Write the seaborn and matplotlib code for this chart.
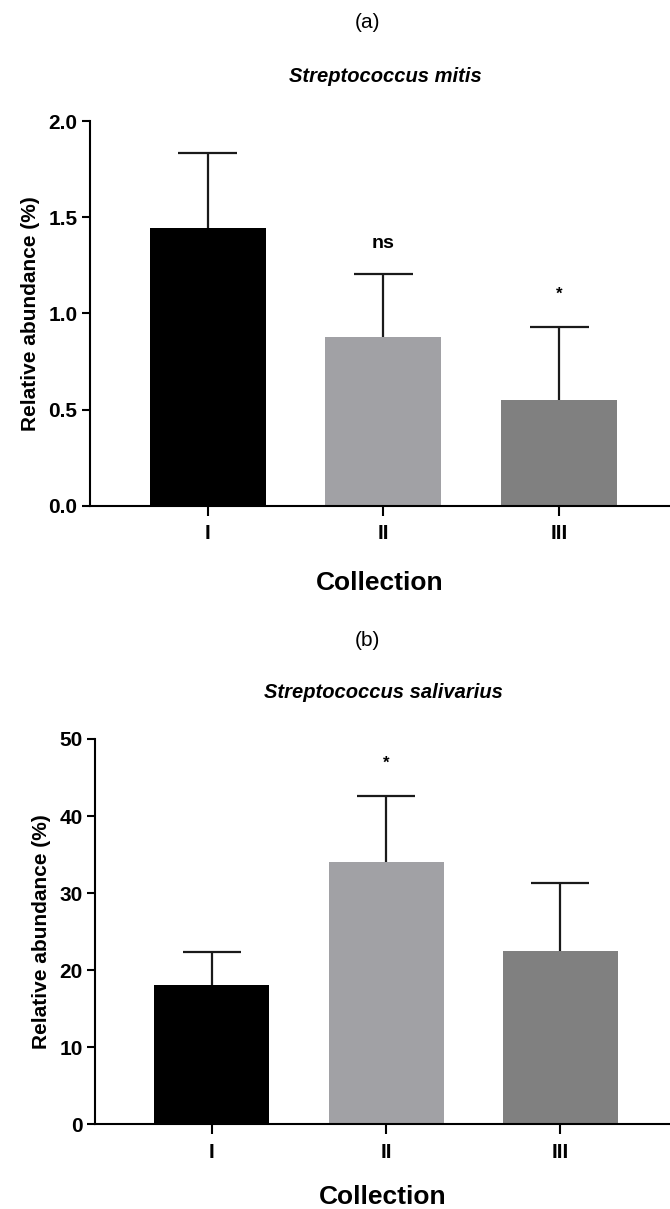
import numpy as np
import matplotlib
matplotlib.use("Agg")
import matplotlib.pyplot as plt
import seaborn as sns

# Data (mean and upper SD for each collection)
collections = ["I", "II", "III"]
bar_colors = ["#000000", "#a1a1a5", "#808080"]

mitis_mean = [1.443, 0.876, 0.549]
mitis_sd = [0.392, 0.328, 0.382]
mitis_sig = ["", "ns", "*"]
mitis_yticks = [0.0, 0.5, 1.0, 1.5, 2.0]
mitis_ticklabels = ["0.0", "0.5", "1.0", "1.5", "2.0"]

saliv_mean = [18.1, 34.0, 22.5]
saliv_sd = [4.25, 8.6, 8.8]
saliv_sig = ["", "*", ""]
saliv_yticks = [0, 10, 20, 30, 40, 50]
saliv_ticklabels = ["0", "10", "20", "30", "40", "50"]

sns.set_style("ticks")
plt.rcParams['font.family'] = ['Liberation Sans', 'DejaVu Sans']
plt.rcParams['text.color'] = 'black'
plt.rcParams['axes.labelcolor'] = 'black'
plt.rcParams['xtick.color'] = 'black'
plt.rcParams['ytick.color'] = 'black'
plt.rcParams['axes.edgecolor'] = 'black'


def draw_panel(ax, means, sds, sig, yticks, yticklabels, xlabelpad=20):
    """Bar chart with one-sided SD error bars, GraphPad look."""
    sns.barplot(x=collections, y=means, hue=collections, palette=bar_colors,
                width=0.66, legend=False, ax=ax, linewidth=0, saturation=1)
    xs = np.arange(len(means))
    tops = np.array(means) + np.array(sds)
    # upper-only error bars: stem plus cap
    ax.vlines(xs, means, tops, color="#1a1a1a", linewidth=1.6)
    ax.hlines(tops, xs - 0.167, xs + 0.167, color="#1a1a1a", linewidth=1.6)
    ymax = yticks[-1]
    for x, t, lab in zip(xs, tops, sig):
        if lab == "ns":
            ax.text(x, t + 0.08 * ymax, lab, ha="center", va="center",
                    fontsize=14, fontweight="bold")
        elif lab:
            ax.text(x, t + 0.065 * ymax, lab, ha="center", va="bottom",
                    fontsize=12, fontweight="bold")

    ax.set_ylim(0, ymax)
    ax.set_xlim(-0.67, 2.63)
    ax.set_yticks(yticks)
    ax.set_yticklabels(yticklabels, fontsize=15, fontweight="bold")
    ax.set_xticks(xs)
    ax.set_xticklabels(collections, fontsize=15, fontweight="bold")
    ax.tick_params(axis="y", length=6, width=1.5, pad=3)
    ax.tick_params(axis="x", length=7, width=1.5, pad=6)
    for side in ["left", "bottom"]:
        ax.spines[side].set_linewidth(1.5)
    sns.despine(ax=ax)
    ax.set_ylabel("Relative abundance (%)", fontsize=15, fontweight="bold",
                  labelpad=6)
    ax.set_xlabel("Collection", fontsize=19, fontweight="bold",
                  labelpad=xlabelpad)


fig = plt.figure(figsize=(6.7, 12.09), dpi=100)

ax_a = fig.add_axes([0.134, 0.5815, 0.866, 0.3184])
draw_panel(ax_a, mitis_mean, mitis_sd, mitis_sig, mitis_yticks, mitis_ticklabels)
fig.text(0.548, 0.981, "(a)", ha="center", va="center", fontsize=15)
fig.text(0.575, 0.937, "Streptococcus mitis", ha="center", va="center",
         fontsize=14.5, fontweight="bold", style="italic")

ax_b = fig.add_axes([0.142, 0.0699, 0.858, 0.3189])
draw_panel(ax_b, saliv_mean, saliv_sd, saliv_sig, saliv_yticks, saliv_ticklabels,
           xlabelpad=17)
fig.text(0.548, 0.4706, "(b)", ha="center", va="center", fontsize=15)
fig.text(0.572, 0.4268, "Streptococcus salivarius", ha="center", va="center",
         fontsize=14.5, fontweight="bold", style="italic")

fig.savefig("out.png", dpi=100)
